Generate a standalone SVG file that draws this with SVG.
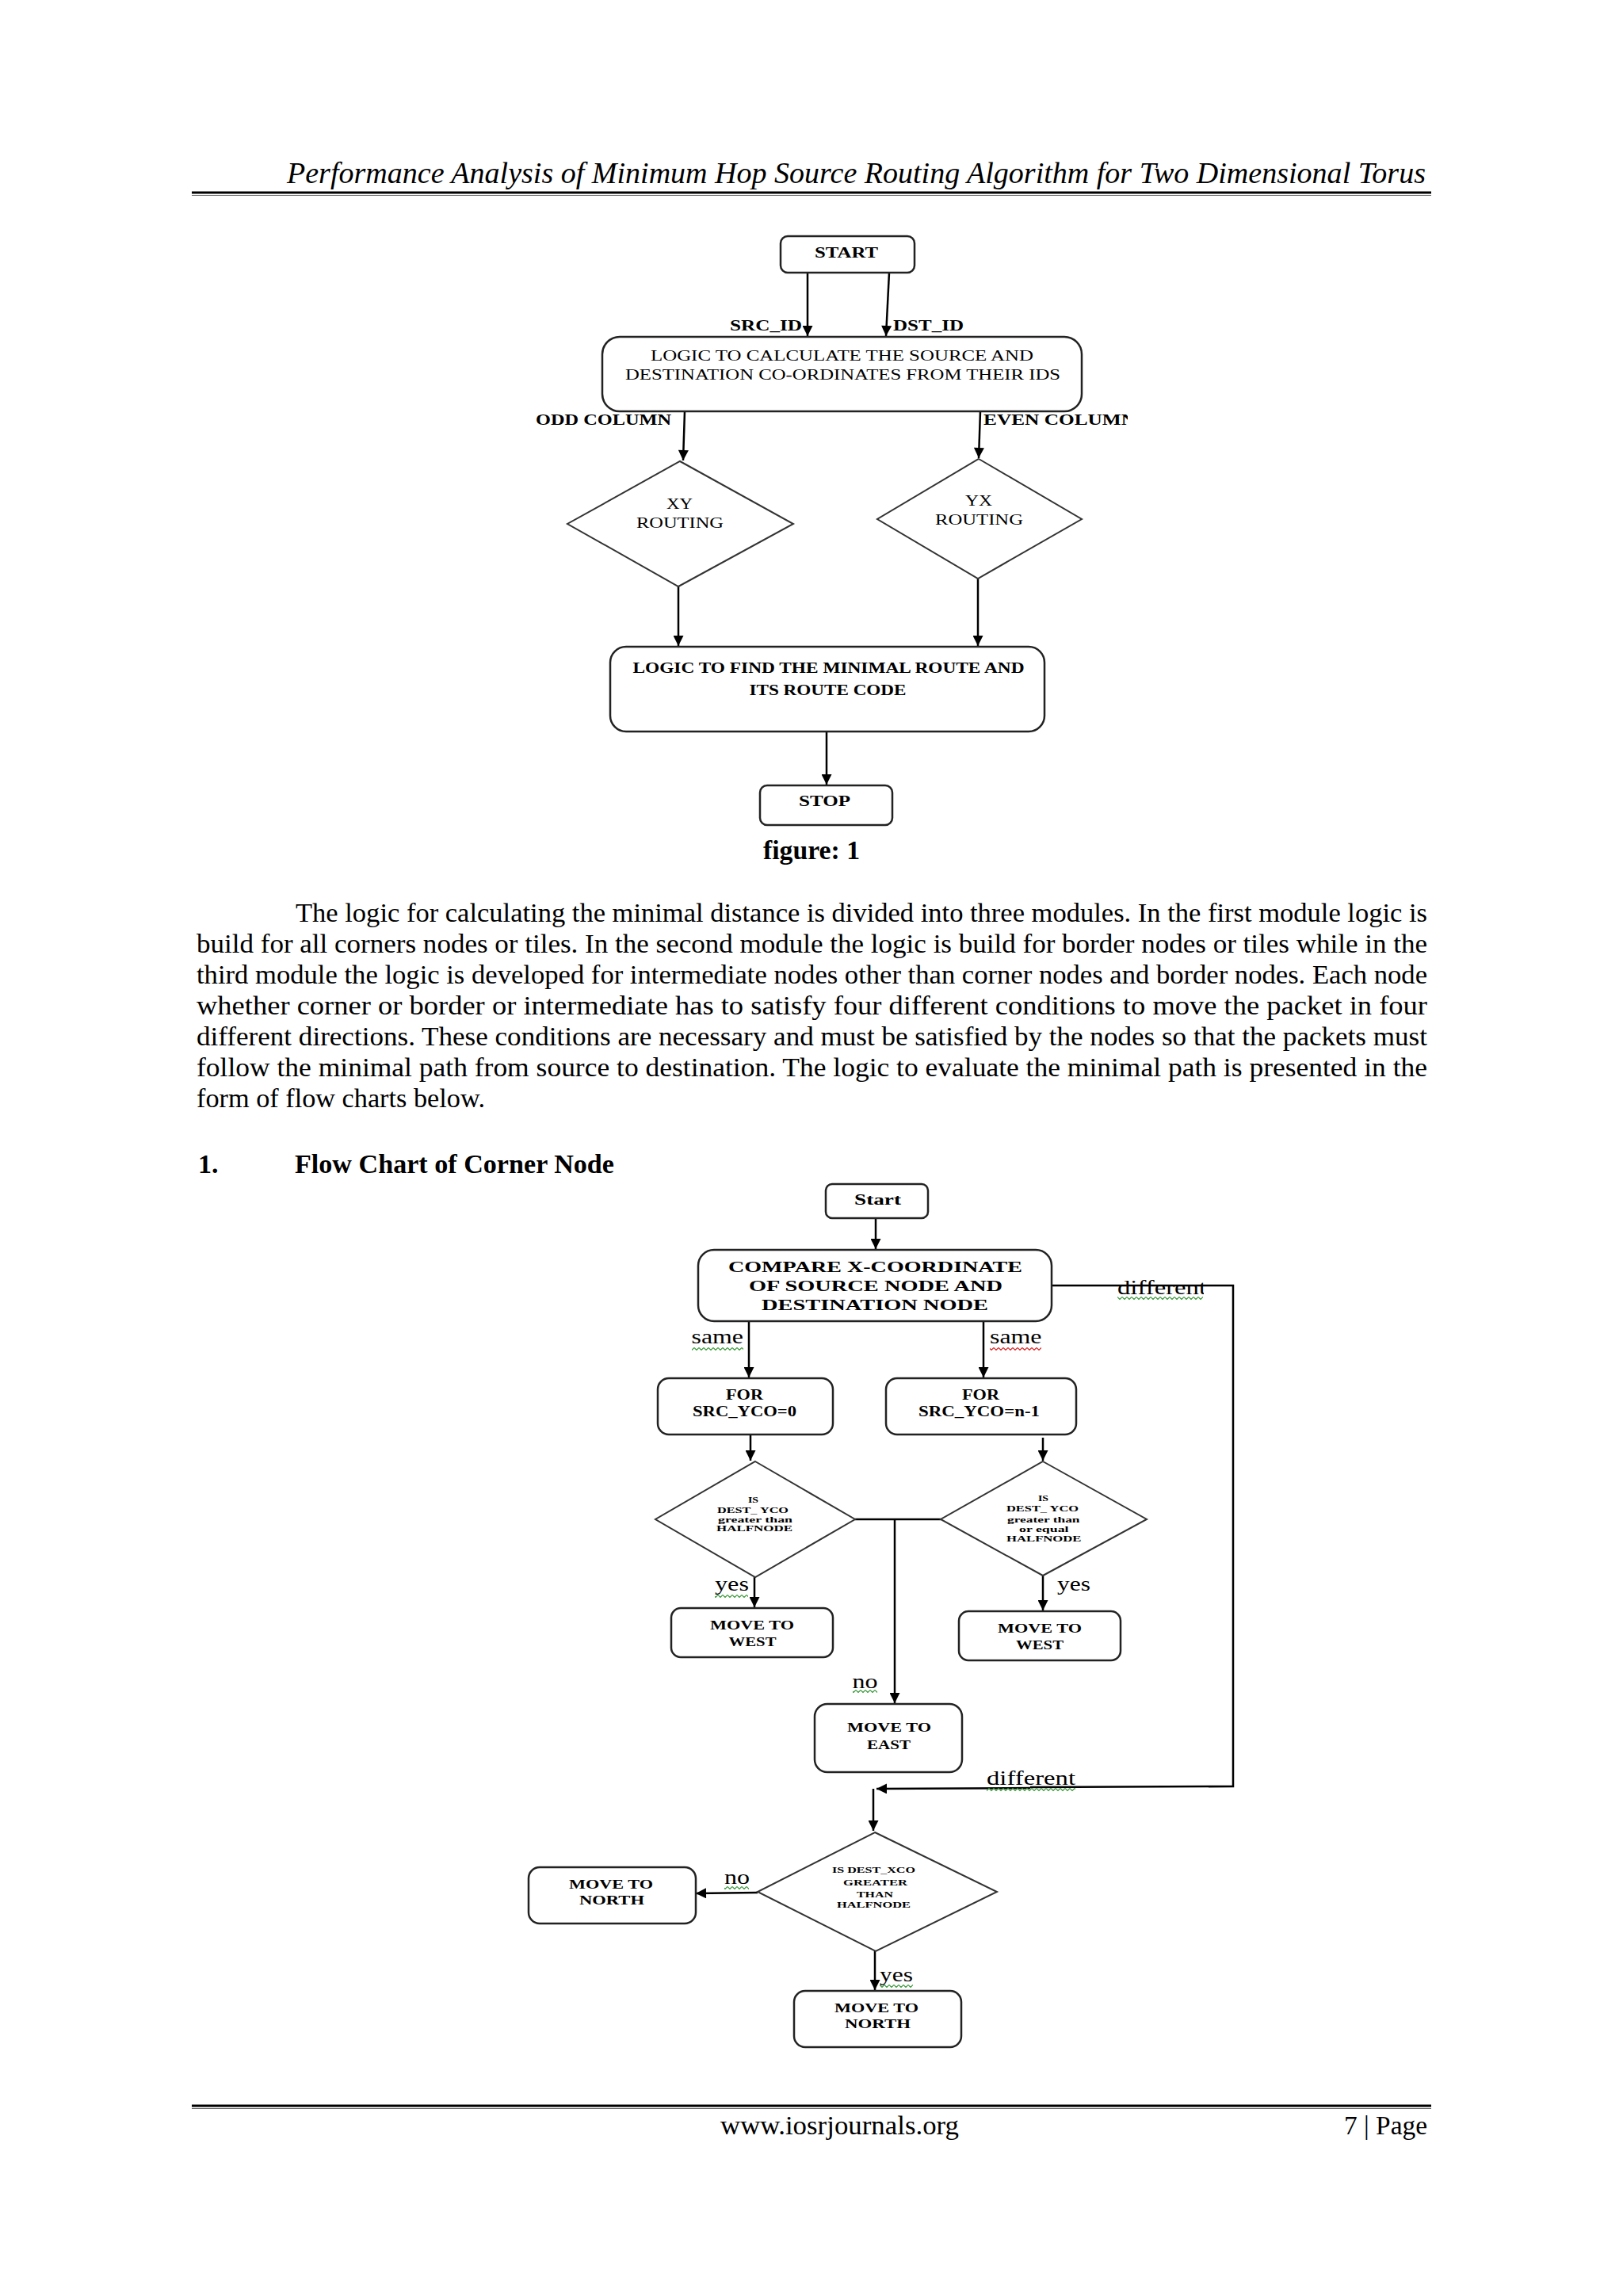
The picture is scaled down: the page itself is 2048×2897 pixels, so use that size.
<svg xmlns="http://www.w3.org/2000/svg" width="2048" height="2897" viewBox="0 0 2048 2897">
<defs>
<style>
.box{fill:#fff;stroke:#222;stroke-width:2.5}
.dia{fill:#fff;stroke:#333;stroke-width:2}
.conn{fill:none;stroke:#000;stroke-width:2.5}
.arr{marker-end:url(#ah)}
.b{font-family:"Liberation Serif","Times New Roman",serif;font-weight:bold;fill:#000}
.r{font-family:"Liberation Serif","Times New Roman",serif;fill:#000}
.rule{stroke:#000;stroke-width:3}
.rule2{stroke:#666;stroke-width:1}
</style>
<marker id="ah" viewBox="0 0 10 10" refX="10" refY="5" markerWidth="14" markerHeight="13" markerUnits="userSpaceOnUse" orient="auto">
<path d="M0,0 L10,5 L0,10 z" fill="#000"/>
</marker>
<pattern id="sqg" width="6" height="4" patternUnits="userSpaceOnUse">
<polyline points="0,0.5 3,3.5 6,0.5" fill="none" stroke="#3a9b3a" stroke-width="1.2"/>
</pattern>
<pattern id="sqr" width="6" height="4" patternUnits="userSpaceOnUse">
<polyline points="0,0.5 3,3.5 6,0.5" fill="none" stroke="#d22" stroke-width="1.2"/>
</pattern>
<clipPath id="clipEven"><rect x="1230" y="505" width="193" height="45"/></clipPath>
<clipPath id="clipDiff"><rect x="1400" y="1600" width="119" height="45"/></clipPath>
</defs>
<rect width="2048" height="2897" fill="#fff"/>

<!-- page header -->
<g id="header">
<text x="362" y="231" class="r" font-style="italic" font-size="37" textLength="1437" lengthAdjust="spacingAndGlyphs">Performance Analysis of Minimum Hop Source Routing Algorithm for Two Dimensional Torus</text>
<line x1="242" y1="243" x2="1806" y2="243" class="rule"/>
<line x1="242" y1="246.5" x2="1806" y2="246.5" class="rule2"/>
</g>

<!-- ===== Figure 1 ===== -->
<g id="fig1-connectors">
<path class="conn arr" d="M1019,344 V424"/>
<path class="conn arr" d="M1122,344 L1118,424"/>
<path class="conn arr" d="M864,519 L862,581"/>
<path class="conn arr" d="M1237,519 L1235,578"/>
<path class="conn arr" d="M856,740 V815"/>
<path class="conn arr" d="M1234,730 V815"/>
<path class="conn arr" d="M1043,923 V990"/>
</g>
<g id="fig1-labels">
<text x="921" y="417" class="b" font-size="19" textLength="91" lengthAdjust="spacingAndGlyphs">SRC_ID</text>
<text x="1127" y="417" class="b" font-size="19" textLength="89" lengthAdjust="spacingAndGlyphs">DST_ID</text>
<text x="676" y="536" class="b" font-size="19" textLength="171" lengthAdjust="spacingAndGlyphs">ODD COLUMN</text>
<text x="1241" y="536" class="b" font-size="19" textLength="192" lengthAdjust="spacingAndGlyphs" clip-path="url(#clipEven)">EVEN COLUMN</text>
</g>
<g id="f1-start">
<rect x="985" y="298" width="169" height="46" rx="9" class="box"/>
<text x="1028" y="325" class="b" font-size="19" textLength="80" lengthAdjust="spacingAndGlyphs">START</text>
</g>
<g id="f1-calc">
<rect x="760" y="425" width="605" height="94" rx="22" class="box"/>
<text x="821" y="455" class="r" font-size="19" textLength="483" lengthAdjust="spacingAndGlyphs">LOGIC TO CALCULATE THE SOURCE AND</text>
<text x="789" y="479" class="r" font-size="19" textLength="549" lengthAdjust="spacingAndGlyphs">DESTINATION CO-ORDINATES FROM THEIR IDS</text>
</g>
<g id="f1-xy">
<polygon points="858,582 1001,661 856,740 716,661" class="dia"/>
<text x="841" y="642" class="r" font-size="19" textLength="33" lengthAdjust="spacingAndGlyphs">XY</text>
<text x="803" y="666" class="r" font-size="19" textLength="110" lengthAdjust="spacingAndGlyphs">ROUTING</text>
</g>
<g id="f1-yx">
<polygon points="1235,579 1365,655 1234,730 1107,655" class="dia"/>
<text x="1218" y="638" class="r" font-size="19" textLength="34" lengthAdjust="spacingAndGlyphs">YX</text>
<text x="1180" y="662" class="r" font-size="19" textLength="111" lengthAdjust="spacingAndGlyphs">ROUTING</text>
</g>
<g id="f1-minimal">
<rect x="770" y="816" width="548" height="107" rx="20" class="box"/>
<text x="798.5" y="849" class="b" font-size="19" textLength="494" lengthAdjust="spacingAndGlyphs">LOGIC TO FIND THE MINIMAL ROUTE AND</text>
<text x="945.5" y="877" class="b" font-size="19" textLength="198" lengthAdjust="spacingAndGlyphs">ITS ROUTE CODE</text>
</g>
<g id="f1-stop">
<rect x="959" y="991" width="167" height="50" rx="9" class="box"/>
<text x="1008" y="1017" class="b" font-size="19" textLength="65" lengthAdjust="spacingAndGlyphs">STOP</text>
</g>
<text x="963" y="1084" class="b" font-size="33" textLength="122" lengthAdjust="spacingAndGlyphs">figure: 1</text>

<!-- paragraph -->
<g id="paragraph" class="r" font-size="33">
<text x="373" y="1163" textLength="1428" lengthAdjust="spacingAndGlyphs">The logic for calculating the minimal distance is divided into three modules. In the first module logic is</text>
<text x="248" y="1202" textLength="1553" lengthAdjust="spacingAndGlyphs">build for all corners nodes or tiles. In the second module the logic is build for border nodes or tiles while in the</text>
<text x="248" y="1241" textLength="1553" lengthAdjust="spacingAndGlyphs">third module the logic is developed for intermediate nodes other than corner nodes and border nodes. Each node</text>
<text x="248" y="1280" textLength="1553" lengthAdjust="spacingAndGlyphs">whether corner or border or intermediate has to satisfy four different conditions to move the packet in four</text>
<text x="248" y="1319" textLength="1553" lengthAdjust="spacingAndGlyphs">different directions. These conditions are necessary and must be satisfied by the nodes so that the packets must</text>
<text x="248" y="1358" textLength="1553" lengthAdjust="spacingAndGlyphs">follow the minimal path from source to destination. The logic to evaluate the minimal path is presented in the</text>
<text x="248" y="1397" textLength="364" lengthAdjust="spacingAndGlyphs">form of flow charts below.</text>
</g>

<g id="heading" class="b" font-size="34">
<text x="250" y="1480">1.</text>
<text x="372" y="1480" textLength="403" lengthAdjust="spacingAndGlyphs">Flow Chart of Corner Node</text>
</g>

<!-- ===== Flow chart of corner node ===== -->
<g id="fc2-connectors">
<path class="conn arr" d="M1105,1537 V1576"/>
<path class="conn" d="M1327,1622 H1556 V2254 L1300,2255"/>
<path class="conn arr" d="M1300,2256 L1106,2257"/>
<path class="conn arr" d="M1102,2257 V2310"/>
<path class="conn arr" d="M945,1667 V1738"/>
<path class="conn arr" d="M1241,1667 V1738"/>
<path class="conn arr" d="M947,1810 V1843"/>
<path class="conn arr" d="M1316,1814 V1843"/>
<path class="conn" d="M1079,1917 H1187"/>
<path class="conn arr" d="M1129,1917 V2149"/>
<path class="conn arr" d="M952,1990 V2028"/>
<path class="conn arr" d="M1316,1988 V2032"/>
<path class="conn arr" d="M956,2388 L878,2389"/>
<path class="conn arr" d="M1104,2462 V2511"/>
</g>
<g id="fc2-labels">
<text x="1410" y="1633" class="r" font-size="26" textLength="112" lengthAdjust="spacingAndGlyphs" clip-path="url(#clipDiff)">different</text>
<rect x="1410" y="1636" width="108" height="4" fill="url(#sqg)"/>
<text x="872.5" y="1695" class="r" font-size="26" textLength="65.5" lengthAdjust="spacingAndGlyphs">same</text>
<rect x="873" y="1700" width="65" height="4" fill="url(#sqg)"/>
<text x="1249" y="1695" class="r" font-size="26" textLength="65.5" lengthAdjust="spacingAndGlyphs">same</text>
<rect x="1249" y="1700" width="65" height="4" fill="url(#sqr)"/>
<text x="902" y="2007" class="r" font-size="26" textLength="43" lengthAdjust="spacingAndGlyphs">yes</text>
<rect x="902" y="2012" width="42" height="4" fill="url(#sqg)"/>
<text x="1334" y="2007" class="r" font-size="26" textLength="42" lengthAdjust="spacingAndGlyphs">yes</text>
<text x="1075.5" y="2130" class="r" font-size="26" textLength="32" lengthAdjust="spacingAndGlyphs">no</text>
<rect x="1076" y="2132" width="31" height="4" fill="url(#sqg)"/>
<text x="1245" y="2252" class="r" font-size="26" textLength="112" lengthAdjust="spacingAndGlyphs">different</text>
<rect x="1245" y="2256" width="112" height="4" fill="url(#sqg)"/>
<text x="914" y="2377" class="r" font-size="26" textLength="32" lengthAdjust="spacingAndGlyphs">no</text>
<rect x="914" y="2380" width="31" height="4" fill="url(#sqg)"/>
<text x="1110" y="2500" class="r" font-size="26" textLength="42" lengthAdjust="spacingAndGlyphs">yes</text>
<rect x="1110" y="2504" width="42" height="4" fill="url(#sqg)"/>
</g>
<g id="c-start">
<rect x="1042" y="1494" width="129" height="43" rx="8" class="box"/>
<text x="1078" y="1520" class="b" font-size="18" textLength="59" lengthAdjust="spacingAndGlyphs">Start</text>
</g>
<g id="c-compare">
<rect x="881" y="1577" width="446" height="90" rx="20" class="box"/>
<text x="919" y="1605" class="b" font-size="18" textLength="371" lengthAdjust="spacingAndGlyphs">COMPARE X-COORDINATE</text>
<text x="945" y="1629" class="b" font-size="18" textLength="320" lengthAdjust="spacingAndGlyphs">OF SOURCE NODE AND</text>
<text x="961" y="1653" class="b" font-size="18" textLength="286" lengthAdjust="spacingAndGlyphs">DESTINATION NODE</text>
</g>
<g id="c-for0">
<rect x="830" y="1739" width="221" height="71" rx="14" class="box"/>
<text x="916" y="1766" class="b" font-size="18" textLength="47" lengthAdjust="spacingAndGlyphs">FOR</text>
<text x="874" y="1787" class="b" font-size="18" textLength="131" lengthAdjust="spacingAndGlyphs">SRC_YCO=0</text>
</g>
<g id="c-forn">
<rect x="1118" y="1739" width="240" height="71" rx="14" class="box"/>
<text x="1214" y="1766" class="b" font-size="18" textLength="47" lengthAdjust="spacingAndGlyphs">FOR</text>
<text x="1159" y="1787" class="b" font-size="18" textLength="153" lengthAdjust="spacingAndGlyphs">SRC_YCO=n-1</text>
</g>
<g id="c-dia-left">
<polygon points="953,1844 1079,1917 953,1990 827,1917" class="dia"/>
<text x="944" y="1896" class="b" font-size="10" textLength="13" lengthAdjust="spacingAndGlyphs">IS</text>
<text x="905" y="1909" class="b" font-size="10" textLength="90" lengthAdjust="spacingAndGlyphs">DEST_ YCO</text>
<text x="906" y="1921" class="b" font-size="10" textLength="94" lengthAdjust="spacingAndGlyphs">greater than</text>
<text x="904" y="1932" class="b" font-size="10" textLength="96" lengthAdjust="spacingAndGlyphs">HALFNODE</text>
</g>
<g id="c-dia-right">
<polygon points="1316,1844 1447,1917 1316,1988 1187,1917" class="dia"/>
<text x="1310" y="1894" class="b" font-size="10" textLength="13" lengthAdjust="spacingAndGlyphs">IS</text>
<text x="1270" y="1907" class="b" font-size="10" textLength="91" lengthAdjust="spacingAndGlyphs">DEST_ YCO</text>
<text x="1271" y="1921" class="b" font-size="10" textLength="91.5" lengthAdjust="spacingAndGlyphs">greater than</text>
<text x="1286" y="1933" class="b" font-size="10" textLength="62.5" lengthAdjust="spacingAndGlyphs">or equal</text>
<text x="1270" y="1945" class="b" font-size="10" textLength="94.5" lengthAdjust="spacingAndGlyphs">HALFNODE</text>
</g>
<g id="c-west1">
<rect x="847" y="2029" width="204" height="62" rx="12" class="box"/>
<text x="896" y="2056" class="b" font-size="16.5" textLength="106" lengthAdjust="spacingAndGlyphs">MOVE TO</text>
<text x="919.5" y="2077" class="b" font-size="16.5" textLength="60" lengthAdjust="spacingAndGlyphs">WEST</text>
</g>
<g id="c-west2">
<rect x="1210" y="2033" width="204" height="62" rx="12" class="box"/>
<text x="1259" y="2060" class="b" font-size="16.5" textLength="106" lengthAdjust="spacingAndGlyphs">MOVE TO</text>
<text x="1282" y="2081" class="b" font-size="16.5" textLength="60" lengthAdjust="spacingAndGlyphs">WEST</text>
</g>
<g id="c-east">
<rect x="1028" y="2150" width="186" height="86" rx="16" class="box"/>
<text x="1069" y="2185" class="b" font-size="16.5" textLength="106" lengthAdjust="spacingAndGlyphs">MOVE TO</text>
<text x="1094" y="2207" class="b" font-size="16.5" textLength="55" lengthAdjust="spacingAndGlyphs">EAST</text>
</g>
<g id="c-dia-x">
<polygon points="1104,2312 1258,2387 1105,2462 956,2387" class="dia"/>
<text x="1050" y="2363" class="b" font-size="10.5" textLength="105" lengthAdjust="spacingAndGlyphs">IS DEST_XCO</text>
<text x="1064" y="2379" class="b" font-size="10.5" textLength="81" lengthAdjust="spacingAndGlyphs">GREATER</text>
<text x="1081" y="2394" class="b" font-size="10.5" textLength="46" lengthAdjust="spacingAndGlyphs">THAN</text>
<text x="1056" y="2407" class="b" font-size="10.5" textLength="93" lengthAdjust="spacingAndGlyphs">HALFNODE</text>
</g>
<g id="c-north1">
<rect x="667" y="2356" width="211" height="71" rx="14" class="box"/>
<text x="718" y="2383" class="b" font-size="16.5" textLength="106" lengthAdjust="spacingAndGlyphs">MOVE TO</text>
<text x="731" y="2403" class="b" font-size="16.5" textLength="82" lengthAdjust="spacingAndGlyphs">NORTH</text>
</g>
<g id="c-north2">
<rect x="1002" y="2512" width="211" height="71" rx="14" class="box"/>
<text x="1053" y="2539" class="b" font-size="16.5" textLength="106" lengthAdjust="spacingAndGlyphs">MOVE TO</text>
<text x="1066" y="2559" class="b" font-size="16.5" textLength="83" lengthAdjust="spacingAndGlyphs">NORTH</text>
</g>

<!-- footer -->
<g id="footer">
<line x1="242" y1="2657" x2="1806" y2="2657" class="rule"/>
<line x1="242" y1="2660.5" x2="1806" y2="2660.5" class="rule2"/>
<text x="909" y="2693" class="r" font-size="34" textLength="301" lengthAdjust="spacingAndGlyphs">www.iosrjournals.org</text>
<text x="1696" y="2693" class="r" font-size="34" textLength="105" lengthAdjust="spacingAndGlyphs">7 | Page</text>
</g>
</svg>
